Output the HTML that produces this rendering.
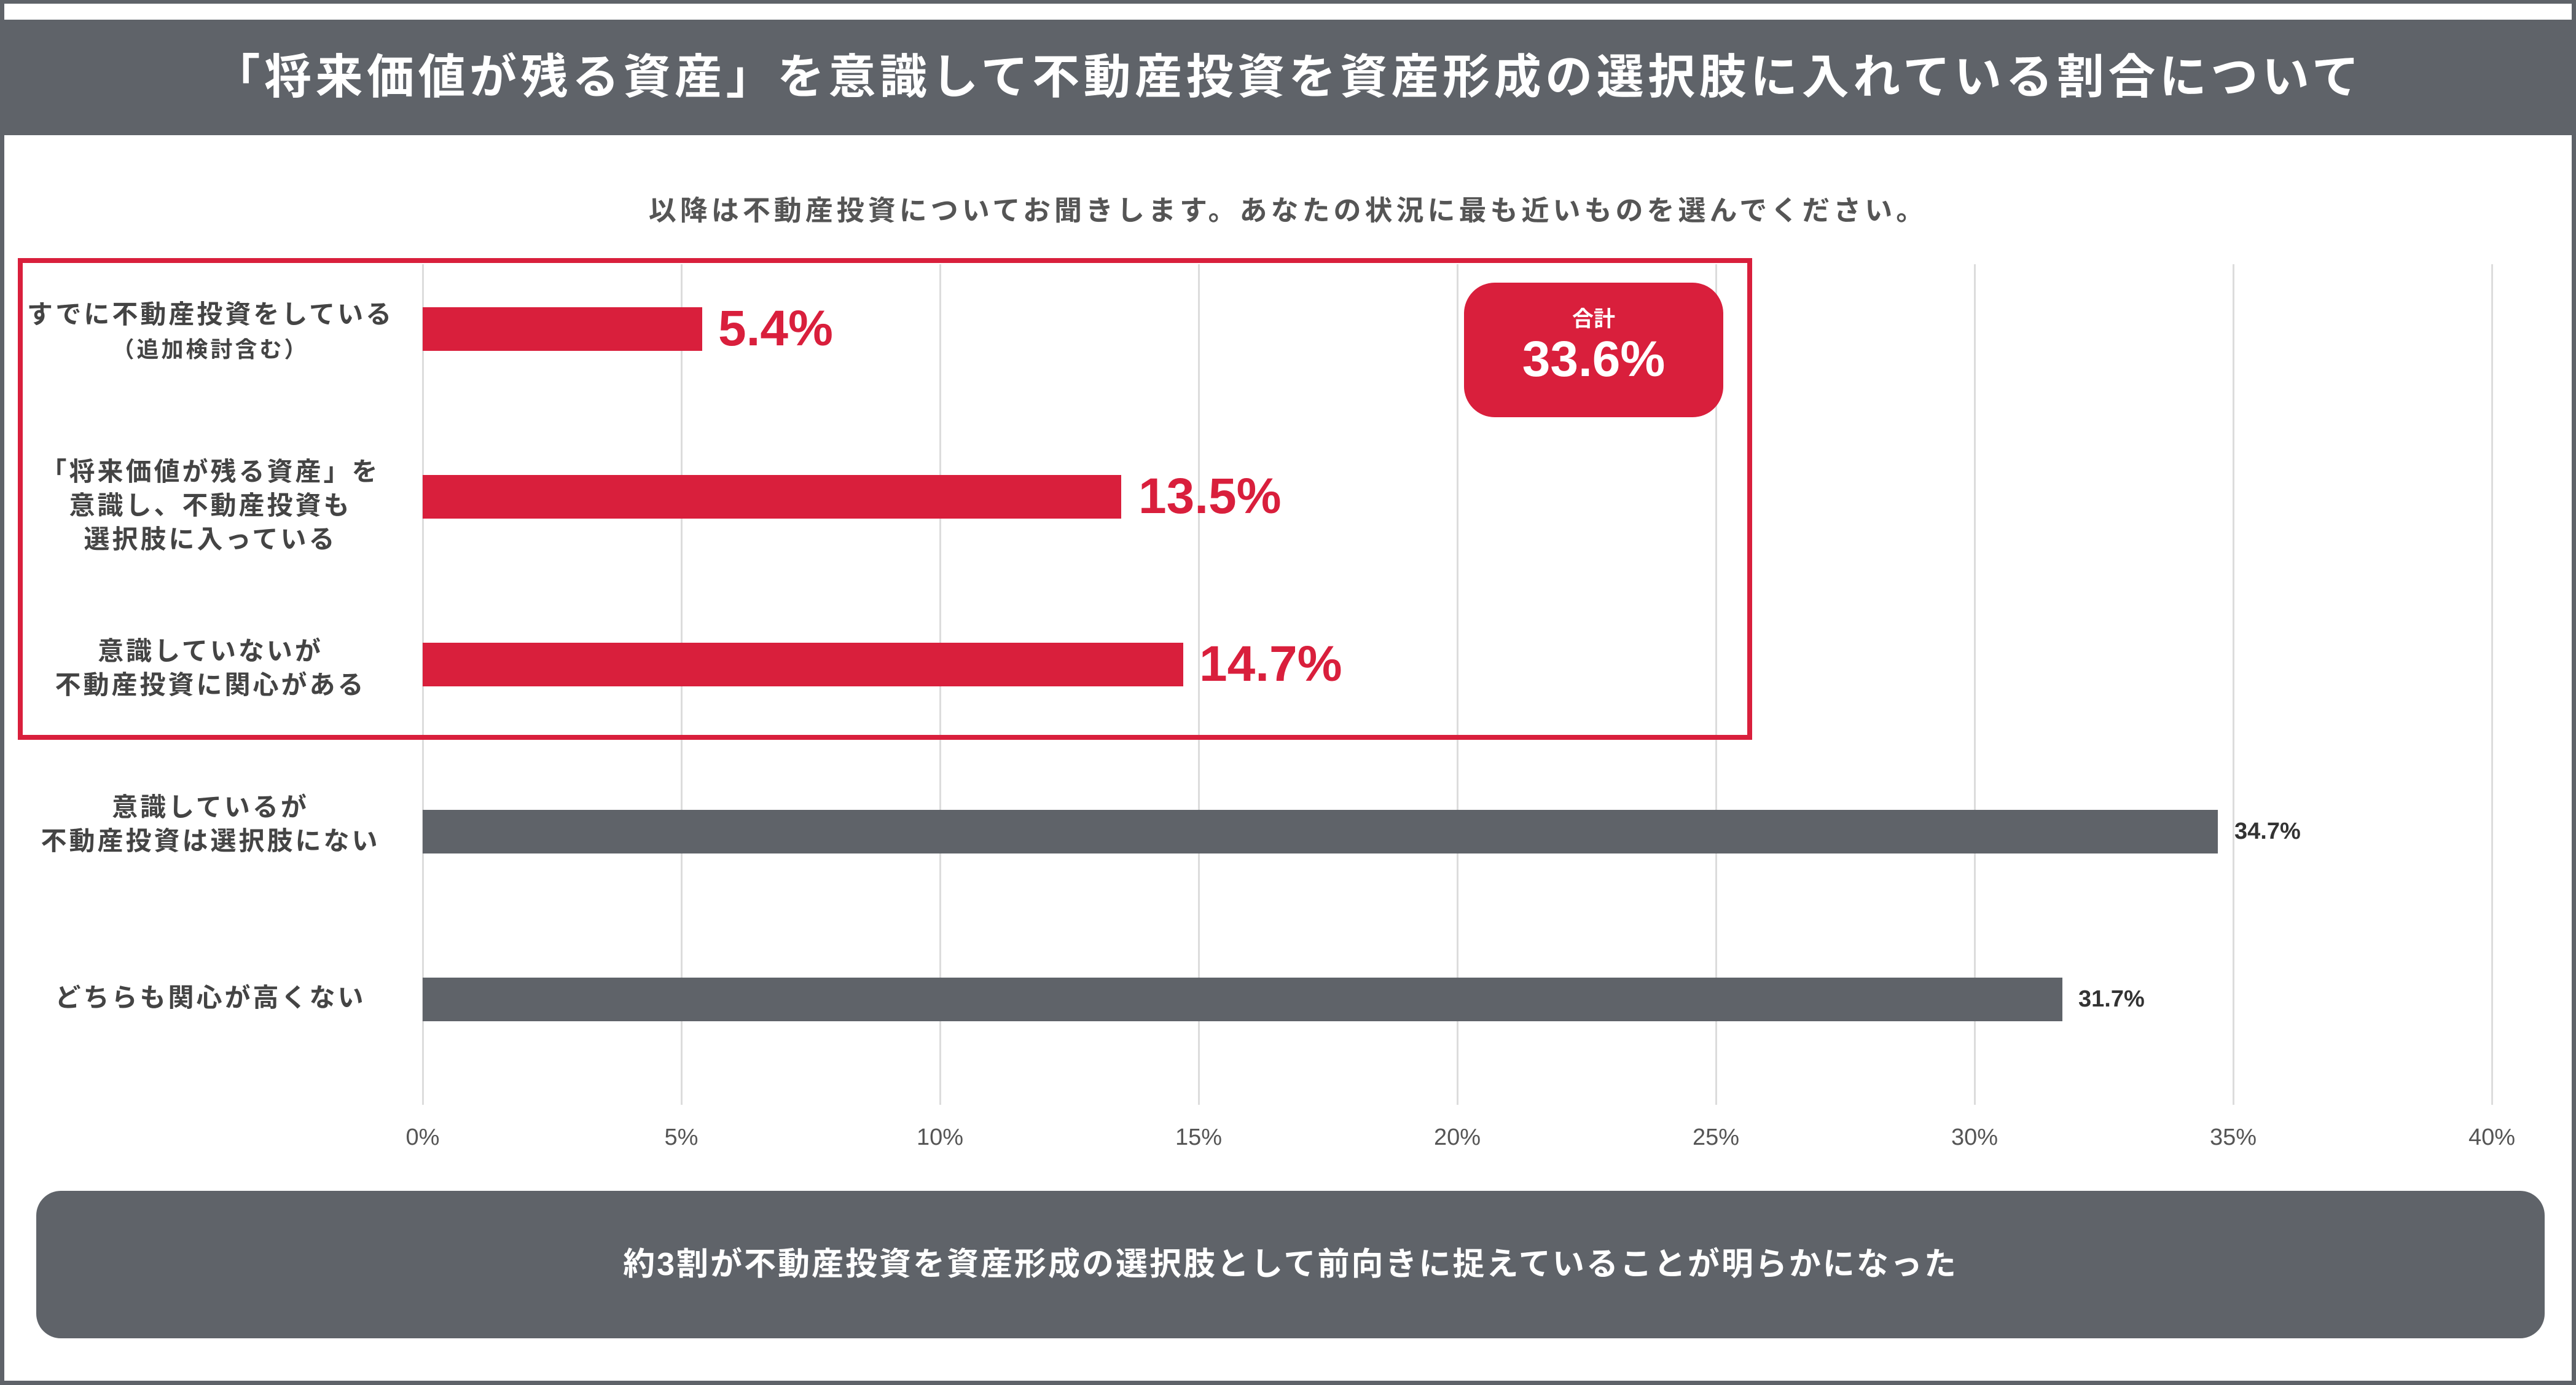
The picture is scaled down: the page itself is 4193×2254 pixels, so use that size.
<!DOCTYPE html>
<html><head><meta charset="utf-8"><style>
*{margin:0;padding:0;box-sizing:border-box}
body{width:4193px;height:2254px;position:relative;background:#fff;font-family:"Liberation Sans","Noto Sans CJK JP",sans-serif;overflow:hidden}
.a{position:absolute}
.g{position:absolute;top:430px;width:3px;height:1368px;background:#dcdcdc}
.bar{position:absolute;left:688px;height:71px}
.r{background:#d91f3c}.k{background:#5f6369}
.lab{position:absolute;left:30px;width:625px;text-align:center;font-weight:bold;color:#444;font-size:42px;line-height:55px;letter-spacing:4px}
.v{position:absolute;font-weight:bold;color:#d91f3c;font-size:82px;line-height:82px}
.vk{position:absolute;font-weight:bold;color:#333;font-size:38px;line-height:40px}
.t{position:absolute;top:1830px;width:160px;margin-left:-80px;text-align:center;font-size:38px;color:#555}
</style></head><body>
<div class="a" style="left:0;top:0;width:4193px;height:2254px;border:7px solid #5f6369;border-top-width:6px"></div>
<div class="a" style="left:7px;top:32px;width:4179px;height:188px;background:#5f6369;color:#fff;font-weight:bold;font-size:77px;text-align:center;line-height:188px;letter-spacing:6.5px">「将来価値が残る資産」を意識して不動産投資を資産形成の選択肢に入れている割合について</div>
<div class="a" style="left:0;top:306px;width:4193px;text-align:center;font-size:45px;font-weight:bold;color:#555;letter-spacing:6px">以降は不動産投資についてお聞きします。あなたの状況に最も近いものを選んでください。</div>
<div class="g" style="left:687px"></div><div class="g" style="left:1108px"></div><div class="g" style="left:1529px"></div><div class="g" style="left:1950px"></div><div class="g" style="left:2371px"></div><div class="g" style="left:2792px"></div><div class="g" style="left:3213px"></div><div class="g" style="left:3634px"></div><div class="g" style="left:4055px"></div>
<div class="a" style="left:29px;top:420px;width:2823px;height:784px;border:8px solid #d91f3c"></div>
<div class="bar r" style="top:500px;width:455px"></div>
<div class="bar r" style="top:773px;width:1137px"></div>
<div class="bar r" style="top:1046px;width:1238px"></div>
<div class="bar k" style="top:1318px;width:2922px"></div>
<div class="bar k" style="top:1591px;width:2669px"></div>
<div class="v" style="left:1169px;top:494px">5.4%</div>
<div class="v" style="left:1853px;top:767px">13.5%</div>
<div class="v" style="left:1952px;top:1040px">14.7%</div>
<div class="vk" style="left:3637px;top:1333px">34.7%</div>
<div class="vk" style="left:3383px;top:1606px">31.7%</div>
<div class="lab" style="top:484px">すでに不動産投資をしている<br><span style="font-size:36px">（追加検討含む）</span></div>
<div class="lab" style="top:740px">「将来価値が残る資産」を<br>意識し、不動産投資も<br>選択肢に入っている</div>
<div class="lab" style="top:1032px">意識していないが<br>不動産投資に関心がある</div>
<div class="lab" style="top:1286px">意識しているが<br>不動産投資は選択肢にない</div>
<div class="lab" style="top:1596px">どちらも関心が高くない</div>
<div class="a" style="left:2383px;top:460px;width:422px;height:219px;background:#d91f3c;border-radius:50px;color:#fff;text-align:center;font-weight:bold"><div style="font-size:35px;margin-top:40px;line-height:40px">合計</div><div style="font-size:82px;line-height:90px">33.6%</div></div>
<div class="t" style="left:688px">0%</div><div class="t" style="left:1109px">5%</div><div class="t" style="left:1530px">10%</div><div class="t" style="left:1951px">15%</div><div class="t" style="left:2372px">20%</div><div class="t" style="left:2793px">25%</div><div class="t" style="left:3214px">30%</div><div class="t" style="left:3635px">35%</div><div class="t" style="left:4056px">40%</div>
<div class="a" style="left:59px;top:1938px;width:4083px;height:240px;background:#5f6369;border-radius:40px;color:#fff;font-weight:bold;font-size:52px;text-align:center;line-height:240px;letter-spacing:3px">約3割が不動産投資を資産形成の選択肢として前向きに捉えていることが明らかになった</div>
</body></html>
